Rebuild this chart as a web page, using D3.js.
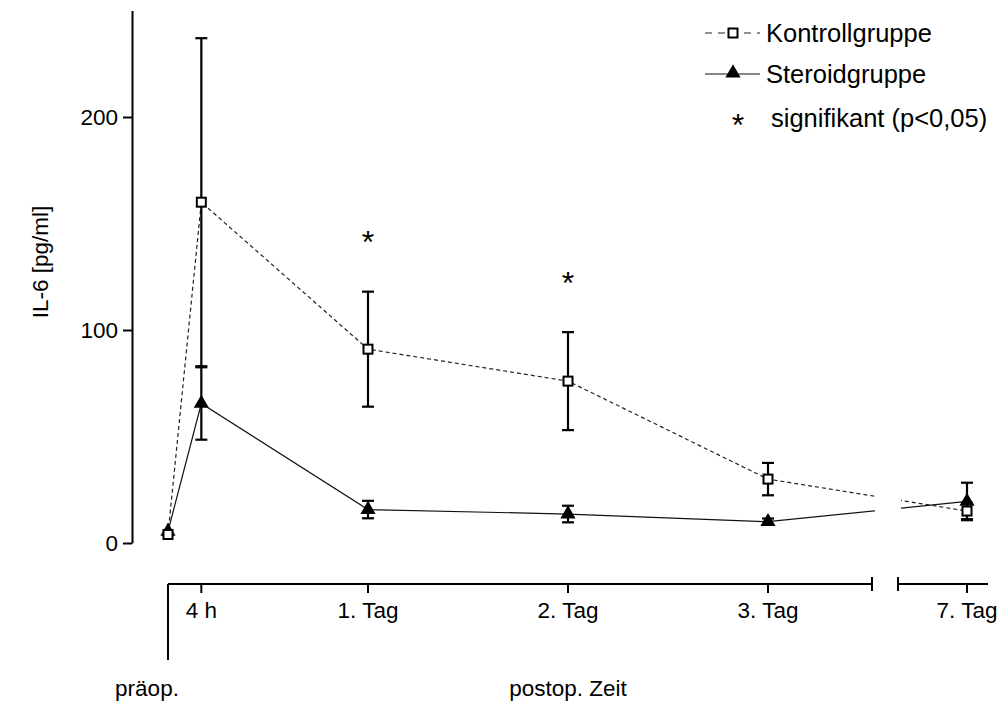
<!DOCTYPE html>
<html>
<head>
<meta charset="utf-8">
<script src="https://cdn.jsdelivr.net/npm/d3@7"></script>
<style>
  body { margin: 0; background: #fff; }
  svg { font-family: "Liberation Sans", Arial, sans-serif; }
</style>
</head>
<body>
<svg id="chart" width="1007" height="701"></svg>
<script>
// data
var timeLabels = ["präop.", "4 h", "1. Tag", "2. Tag", "3. Tag", "7. Tag"];
var timeDays = [0, 1/6, 1, 2, 3, 7];
var kontrollMean = [4, 160, 91, 76, 30, 15];
var kontrollSD = [0, 77, 27, 23, 7.6, 3.8];
var steroidMean = [5.5, 65.5, 15.7, 13.6, 10, 19.5];
var steroidSD = [0, 17, 4.1, 3.9, 1.5, 8.8];
var signifDays = [1, 2];
var signifValues = [143, 124];
var yTicks = [0, 100, 200];

var svg = d3.select('#chart');

// broken time axis: 0..3.5 days, gap, 6.65..7.1 days
var x = d3.scaleLinear()
    .domain([0, 3.52, 6.655, 7.105])
    .range([168, 872, 898, 988]);
var y = d3.scaleLinear()
    .domain([0, 250])
    .range([543, 10.5]);

var axisY = 584;
var fontSize = 22.5;
var legendSize = 25.5;

// clip away the gap in the lines
svg.append('defs').append('clipPath').attr('id', 'gapclip')
    .selectAll('rect')
    .data([[0, 875], [901, 1007]])
    .join('rect')
    .attr('x', d => d[0])
    .attr('width', d => d[1] - d[0])
    .attr('y', 0)
    .attr('height', 701);

// y axis
var yAxis = svg.append('g')
    .attr('transform', 'translate(132,0)')
    .call(d3.axisLeft(y).tickValues(yTicks).tickSize(9).tickSizeOuter(0).tickPadding(5));
yAxis.select('.domain').attr('stroke-width', 2);
yAxis.selectAll('.tick line').attr('stroke-width', 2);
yAxis.selectAll('.tick text').attr('font-size', fontSize).attr('font-family', 'Liberation Sans, Arial, sans-serif').attr('fill', '#000');

svg.append('text')
    .attr('transform', 'translate(48,262) rotate(-90)')
    .attr('text-anchor', 'middle')
    .attr('font-size', fontSize)
    .text('IL-6 [pg/ml]');

// x axis, two segments
var xa = svg.append('g').attr('stroke', '#000').attr('stroke-width', 2);
xa.append('line').attr('x1', x(0)).attr('x2', x(3.52)).attr('y1', axisY).attr('y2', axisY);
xa.append('line').attr('x1', x(6.655)).attr('x2', x(7.105)).attr('y1', axisY).attr('y2', axisY);
xa.append('line').attr('x1', x(3.52)).attr('x2', x(3.52)).attr('y1', axisY - 7).attr('y2', axisY + 7);
xa.append('line').attr('x1', x(6.655)).attr('x2', x(6.655)).attr('y1', axisY - 7).attr('y2', axisY + 7);
// präop marker goes down further
xa.append('line').attr('x1', x(0)).attr('x2', x(0)).attr('y1', axisY).attr('y2', 660);
xa.selectAll('.tk')
    .data(timeDays.slice(1))
    .join('line')
    .attr('class', 'tk')
    .attr('x1', d => x(d)).attr('x2', d => x(d))
    .attr('y1', axisY).attr('y2', axisY + 9);

svg.selectAll('.xlabel')
    .data(timeDays.slice(1))
    .join('text')
    .attr('class', 'xlabel')
    .attr('x', d => x(d))
    .attr('y', axisY + 34)
    .attr('text-anchor', 'middle')
    .attr('font-size', fontSize)
    .text((d, i) => timeLabels[i + 1]);

svg.append('text')
    .attr('x', 147).attr('y', 696)
    .attr('text-anchor', 'middle')
    .attr('font-size', fontSize)
    .text(timeLabels[0]);

svg.append('text')
    .attr('x', 568).attr('y', 696)
    .attr('text-anchor', 'middle')
    .attr('font-size', fontSize)
    .text('postop. Zeit');

// lines
var line = d3.line().x(d => x(d[0])).y(d => y(d[1]));
var kData = timeDays.map((d, i) => [d, kontrollMean[i]]);
var sData = timeDays.map((d, i) => [d, steroidMean[i]]);

var plot = svg.append('g').attr('clip-path', 'url(#gapclip)');
plot.append('path').datum(kData)
    .attr('d', line).attr('fill', 'none').attr('stroke', '#222')
    .attr('stroke-width', 1.2).attr('stroke-dasharray', '4,3');
plot.append('path').datum(sData)
    .attr('d', line).attr('fill', 'none').attr('stroke', '#111')
    .attr('stroke-width', 1.2);

// error bars
function errorBars(cls, means, sds) {
    var g = svg.append('g').attr('class', cls).attr('stroke', '#000').attr('stroke-width', 2.2);
    var rows = timeDays.map((d, i) => ({ d: d, m: means[i], s: sds[i] })).filter(r => r.s > 0);
    g.selectAll('.v').data(rows).join('line').attr('class', 'v')
        .attr('x1', r => x(r.d)).attr('x2', r => x(r.d))
        .attr('y1', r => y(r.m - r.s)).attr('y2', r => y(r.m + r.s));
    [-1, 1].forEach(function (sign) {
        g.selectAll('.c' + (sign > 0 ? 'u' : 'l')).data(rows).join('line')
            .attr('class', 'c' + (sign > 0 ? 'u' : 'l'))
            .attr('x1', r => x(r.d) - 6).attr('x2', r => x(r.d) + 6)
            .attr('y1', r => y(r.m + sign * r.s)).attr('y2', r => y(r.m + sign * r.s));
    });
}
errorBars('kerr', kontrollMean, kontrollSD);
errorBars('serr', steroidMean, steroidSD);

// markers
var tri = d3.symbol().type(d3.symbolTriangle).size(100);
svg.selectAll('.tri').data(sData).join('path').attr('class', 'tri')
    .attr('transform', d => `translate(${x(d[0])},${y(d[1])})`)
    .attr('d', tri).attr('fill', '#000');
svg.selectAll('.sq').data(kData).join('rect').attr('class', 'sq')
    .attr('x', d => x(d[0]) - 4.5).attr('y', d => y(d[1]) - 4.5)
    .attr('width', 9).attr('height', 9)
    .attr('fill', '#fff').attr('stroke', '#000').attr('stroke-width', 2);

// significance stars
svg.selectAll('.star').data(signifDays).join('text').attr('class', 'star')
    .attr('x', d => x(d))
    .attr('y', (d, i) => y(signifValues[i]) + 15)
    .attr('text-anchor', 'middle')
    .attr('font-size', 32)
    .text('*');

// legend
var lg = svg.append('g');
lg.append('line').attr('x1', 705).attr('x2', 760).attr('y1', 33).attr('y2', 33)
    .attr('stroke', '#222').attr('stroke-width', 1.2).attr('stroke-dasharray', '7,6');
lg.append('rect').attr('x', 728.5).attr('y', 28.5).attr('width', 9).attr('height', 9)
    .attr('fill', '#fff').attr('stroke', '#000').attr('stroke-width', 2);
lg.append('text').attr('x', 766).attr('y', 42).attr('font-size', legendSize).text('Kontrollgruppe');

lg.append('line').attr('x1', 705).attr('x2', 760).attr('y1', 74).attr('y2', 74)
    .attr('stroke', '#111').attr('stroke-width', 1.2);
lg.append('path').attr('transform', 'translate(733,73)').attr('d', tri).attr('fill', '#000');
lg.append('text').attr('x', 766).attr('y', 83).attr('font-size', legendSize).text('Steroidgruppe');

lg.append('text').attr('x', 738).attr('y', 136).attr('text-anchor', 'middle').attr('font-size', 32).text('*');
lg.append('text').attr('x', 771).attr('y', 127).attr('font-size', legendSize).text('signifikant (p<0,05)');
</script>
</body>
</html>
